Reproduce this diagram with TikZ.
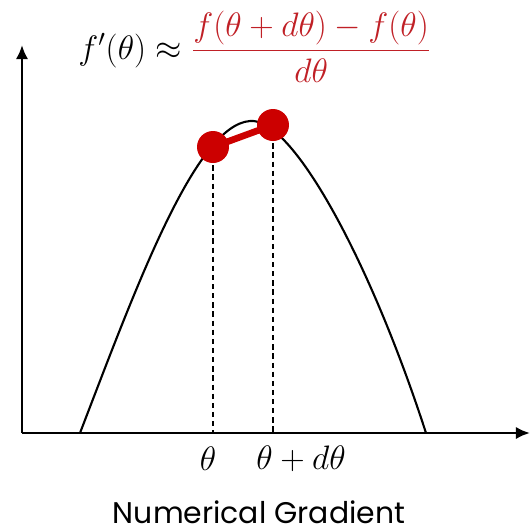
\documentclass[tikz,border=0pt]{standalone}
\usepackage{fix-cm}
\usepackage{amsmath}
\usepackage{fontspec}
\usepackage{xcolor}
\usepackage{tikz}
\usetikzlibrary{positioning, arrows.meta}
\newfontfamily\captionfont{Poppins}
\definecolor{dotred}{RGB}{204, 0, 0}
\definecolor{formulared}{RGB}{192, 32, 38}
\newcommand{\mathsize}{\fontsize{19.3}{23}\selectfont}

\begin{document}
\begin{tikzpicture}[x=0.02cm, y=-0.02cm,
    axis/.style={line width=1.4pt, -{Latex[length=8pt, width=7pt]}},
    gradpoint/.style={circle, fill=dotred, minimum size=0.64cm, inner sep=0pt},
    guide/.style={line width=1.5pt, dash pattern=on 3pt off 2.2pt}]
    \useasboundingbox (0,0) rectangle (530,532);
    % axes
    \coordinate (origin) at (22,433);
    \coordinate (ytip) at (22,45);
    \coordinate (xtip) at (530,433);
    \draw[axis] (origin) -- (ytip);
    \draw[axis] (origin) -- (xtip);
    % the curve
    \coordinate (footl) at (80,433);
    \coordinate (peak) at (250,121);
    \coordinate (footr) at (426,433);
    \draw[line width=1.2pt] (footl) .. controls (135,290) and (195,125) .. (peak)
        .. controls (292,117) and (370,260) .. (footr);
    % the two points
    \coordinate (p1pos) at (213,147);
    \coordinate (p2pos) at (273,125);
    \foreach \p in {p1pos,p2pos}
    {
        \draw[guide] (\p) -- (\p |- origin);
    }
    \draw[dotred, line width=3.8pt] (p1pos) -- (p2pos);
    \node[gradpoint] (p1) at (p1pos) {};
    \node[gradpoint] (p2) at (p2pos) {};
    % labels
    \node (thetalab) at (208,459) {\mathsize $\theta$};
    \node[anchor=west, inner sep=0pt] (dthetalab) at (256,459) {\mathsize $\theta + d\theta$};
    \node[anchor=base west, inner sep=0pt] (formula) at (78,59)
        {\mathsize $f'(\theta) \approx \textcolor{formulared}{\dfrac{f(\theta + d\theta) - f(\theta)}{d\theta}}$};
    \node[anchor=base, inner sep=0pt] (caption) at (259,523)
        {\captionfont\fontsize{17}{20}\selectfont Numerical Gradient};
\end{tikzpicture}
\end{document}
